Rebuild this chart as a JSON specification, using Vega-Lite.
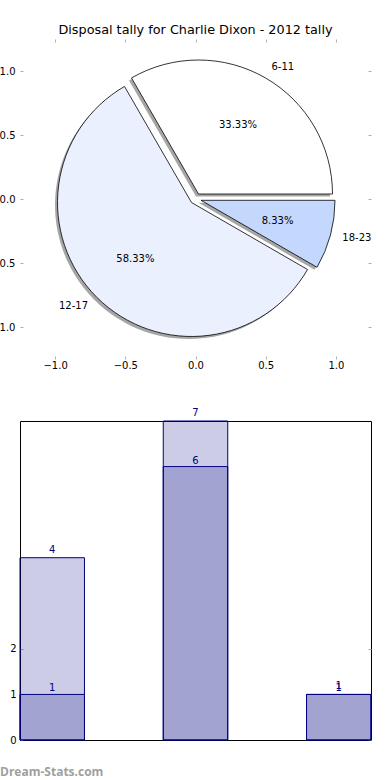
{
  "$schema": "https://vega.github.io/schema/vega-lite/v6.json",
  "autosize": "none",
  "padding": {"left": 20, "top": 39, "right": 370, "bottom": 741},
  "bounds": "flush",
  "spacing": 62,
  "config": {
    "font": "DejaVu Sans",
    "axis": {"labelFont": "DejaVu Sans", "labelFontSize": 10, "labelColor": "black", "grid": false, "domain": false, "tickColor": "#b0b0b0", "tickSize": -3, "tickWidth": 1, "title": null},
    "text": {"font": "DejaVu Sans"}
  },
  "vconcat": [
    {
      "width": 351,
      "height": 320,
      "view": {"stroke": null},
      "title": {"text": "Disposal tally for Charlie Dixon - 2012 tally", "fontSize": 12.8, "fontWeight": "normal", "font": "DejaVu Sans", "color": "black", "baseline": "alphabetic", "offset": -8, "anchor": "middle", "frame": "group"},
      "data": {"values": [
        {"age": "6-11", "count": 4, "pct": "33.33%"},
        {"age": "12-17", "count": 7, "pct": "58.33%"},
        {"age": "18-23", "count": 1, "pct": "8.33%"}
      ]},
      "encoding": {
        "theta": {"field": "count", "type": "quantitative", "stack": true, "scale": {"range": [2.0944, 8.3776]}},
        "order": {"field": "count", "sort": "descending"},
        "detail": {"field": "age", "type": "nominal"}
      },
      "layer": [
        {
          "mark": {"type": "arc", "radius": 134, "fill": "#4d4d4d", "fillOpacity": 0.5,
            "xOffset": {"expr": "(datum.age === '6-11' ? 3 : datum.age === '12-17' ? -4 : 5.5) - 2.5"},
            "yOffset": {"expr": "(datum.age === '6-11' ? -5 : datum.age === '12-17' ? 3.5 : 1.3) + 2.5"}},
          "encoding": {
            "x": {"datum": 0, "type": "quantitative", "scale": {"domain": [-1.25, 1.25], "nice": false, "zero": false},
              "axis": {"orient": "bottom", "values": [-1, -0.5, 0, 0.5, 1], "format": ".1f", "labelPadding": 4}},
            "y": {"datum": 0, "type": "quantitative", "scale": {"domain": [-1.25, 1.25], "nice": false, "zero": false},
              "axis": {"orient": "left", "values": [-1, -0.5, 0, 0.5, 1], "format": ".1f", "labelPadding": 8}}
          }
        },
        {
          "mark": {"type": "arc", "radius": 134, "stroke": "black", "strokeWidth": 0.8, "strokeJoin": "miter",
            "xOffset": {"expr": "datum.age === '6-11' ? 3 : datum.age === '12-17' ? -4 : 5.5"},
            "yOffset": {"expr": "datum.age === '6-11' ? -5 : datum.age === '12-17' ? 3.5 : 1.3"}},
          "encoding": {
            "x": {"datum": 0, "type": "quantitative",
              "axis": {"orient": "top", "values": [-1, -0.5, 0, 0.5, 1], "labels": false}},
            "y": {"datum": 0, "type": "quantitative",
              "axis": {"orient": "right", "values": [-1, -0.5, 0, 0.5, 1], "labels": false}},
            "fill": {"field": "age", "type": "nominal", "legend": null,
              "scale": {"domain": ["6-11", "12-17", "18-23"], "range": ["#ffffff", "#eaf0fd", "#c4d7fd"]}}
          }
        },
        {
          "mark": {"type": "text", "radius": 85, "fontSize": 10, "color": "black", "align": "center", "baseline": "middle"},
          "encoding": {"text": {"field": "pct", "type": "nominal"}}
        },
        {
          "mark": {"type": "text", "radius": 152, "fontSize": 10, "color": "black", "baseline": "middle",
            "align": {"expr": "datum.age === '12-17' ? 'right' : 'left'"}},
          "encoding": {"text": {"field": "age", "type": "nominal"}}
        }
      ],
      "resolve": {"axis": {"x": "independent", "y": "independent"}}
    },
    {
      "width": 351,
      "height": 319,
      "view": {"stroke": "black", "strokeWidth": 1},
      "title": {"text": "Dream-Stats.com", "orient": "bottom", "anchor": "start", "frame": "group", "dx": -20, "offset": 22, "fontSize": 12, "font": "Open Sans", "fontWeight": "bold", "color": "#a0a0a0", "baseline": "top"},
      "data": {"values": [
        {"age": "6-11", "series": "total", "count": 4},
        {"age": "12-17", "series": "total", "count": 7},
        {"age": "18-23", "series": "total", "count": 1},
        {"age": "6-11", "series": "subset", "count": 1},
        {"age": "12-17", "series": "subset", "count": 6},
        {"age": "18-23", "series": "subset", "count": 1}
      ]},
      "encoding": {
        "x": {"field": "age", "type": "nominal", "sort": ["6-11", "12-17", "18-23"], "scale": {"paddingInner": 0.55, "paddingOuter": 0}, "axis": null}
      },
      "layer": [
        {
          "mark": {"type": "bar", "fill": "navy", "fillOpacity": 0.2, "stroke": "navy", "strokeWidth": 1},
          "encoding": {
            "y": {"field": "count", "type": "quantitative", "stack": null, "scale": {"domain": [0, 7], "nice": false},
              "axis": {"orient": "left", "values": [0, 1, 2], "labelPadding": 7}},
            "detail": {"field": "series", "type": "nominal"}
          }
        },
        {
          "transform": [{"filter": "datum.series === 'total'"}],
          "mark": {"type": "text", "fontSize": 10, "color": "navy", "baseline": "alphabetic", "dy": -5},
          "encoding": {
            "y": {"field": "count", "type": "quantitative", "axis": {"orient": "right", "values": [0, 1, 2], "labels": false}},
            "text": {"field": "count", "type": "quantitative"}
          }
        },
        {
          "transform": [{"filter": "datum.series === 'subset'"}],
          "mark": {"type": "text", "fontSize": 10, "color": "navy", "baseline": "alphabetic", "dy": -3},
          "encoding": {
            "y": {"field": "count", "type": "quantitative", "axis": null},
            "text": {"field": "count", "type": "quantitative"}
          }
        }
      ],
      "resolve": {"axis": {"y": "independent"}}
    }
  ]
}
